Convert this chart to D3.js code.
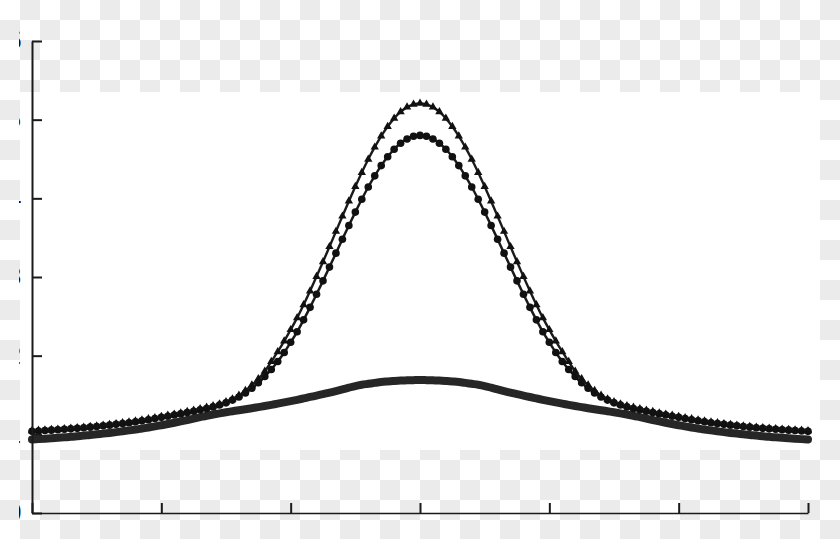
<!DOCTYPE html>
<html>
<head>
<meta charset="utf-8">
<script src="https://cdn.jsdelivr.net/npm/d3@7"></script>
<style>
  html, body { margin: 0; padding: 0; background: #fff; }
  svg { display: block; }
</style>
</head>
<body>
<svg id="chart" width="840" height="539"></svg>
<script>
// ---- data ----
const xValues = d3.range(121).map(i => +(i * 0.05).toFixed(2)); // 0 .. 6 step 0.05
const xTicks = [0, 1, 2, 3, 4, 5, 6];
const yTicks = [0, 1, 2, 3, 4, 5, 6];
const yTickLabels = ["0", "1", "2", "3", "4", "5", "6"];

// series with triangle markers (tallest)
const seriesTriangle = [
  1.045,1.050,1.055,1.060,1.065,1.071,1.077,1.083,1.090,1.098,1.106,1.115,1.125,1.135,1.146,1.157,1.169,1.182,1.196,1.211,
  1.227,1.241,1.256,1.272,1.289,1.306,1.324,1.342,1.362,1.385,1.413,1.450,1.495,1.555,1.625,1.705,1.800,1.925,2.050,2.185,
  2.330,2.480,2.647,2.822,3.005,3.193,3.385,3.579,3.773,3.964,4.149,4.328,4.496,4.650,4.791,4.913,5.017,5.099,5.159,5.195,
  5.207,
  5.195,5.159,5.099,5.017,4.913,4.791,4.650,4.496,4.328,4.149,3.964,3.773,3.579,3.385,3.193,3.005,2.822,2.647,2.480,2.330,
  2.185,2.050,1.925,1.800,1.705,1.625,1.555,1.495,1.450,1.413,1.385,1.362,1.342,1.324,1.306,1.289,1.272,1.256,1.241,1.227,
  1.211,1.196,1.182,1.169,1.157,1.146,1.135,1.125,1.115,1.106,1.098,1.090,1.083,1.077,1.071,1.065,1.060,1.055,1.050,1.045
];

// series with filled dot markers (middle)
const seriesDot = [
  1.038,1.043,1.048,1.053,1.058,1.064,1.070,1.076,1.083,1.091,1.099,1.108,1.117,1.127,1.137,1.148,1.160,1.173,1.186,1.201,
  1.216,1.230,1.245,1.260,1.277,1.294,1.311,1.329,1.349,1.372,1.400,1.435,1.475,1.525,1.585,1.655,1.735,1.825,1.925,2.040,
  2.170,2.304,2.455,2.614,2.780,2.951,3.126,3.303,3.480,3.655,3.825,3.989,4.144,4.286,4.416,4.529,4.624,4.700,4.755,4.789,
  4.800,
  4.789,4.755,4.700,4.624,4.529,4.416,4.286,4.144,3.989,3.825,3.655,3.480,3.303,3.126,2.951,2.780,2.614,2.455,2.304,2.170,
  2.040,1.925,1.825,1.735,1.655,1.585,1.525,1.475,1.435,1.400,1.372,1.349,1.329,1.311,1.294,1.277,1.260,1.245,1.230,1.216,
  1.201,1.186,1.173,1.160,1.148,1.137,1.127,1.117,1.108,1.099,1.091,1.083,1.076,1.070,1.064,1.058,1.053,1.048,1.043,1.038
];

// broad, low series (thick line)
const seriesBroad = [
  0.934,0.939,0.944,0.950,0.956,0.962,0.968,0.976,0.984,0.991,1.000,1.009,1.018,1.028,1.039,1.050,1.061,1.074,1.087,1.101,
  1.116,1.131,1.147,1.164,1.182,1.200,1.218,1.236,1.252,1.267,1.281,1.294,1.307,1.319,1.332,1.346,1.360,1.375,1.391,1.406,
  1.422,1.439,1.457,1.475,1.492,1.510,1.530,1.550,1.571,1.593,1.614,1.630,1.642,1.654,1.665,1.672,1.678,1.683,1.686,1.689,
  1.691,
  1.689,1.686,1.683,1.678,1.672,1.665,1.654,1.642,1.630,1.614,1.593,1.571,1.550,1.530,1.510,1.492,1.475,1.457,1.439,1.422,
  1.406,1.391,1.375,1.360,1.346,1.332,1.319,1.307,1.294,1.281,1.267,1.252,1.236,1.218,1.200,1.182,1.164,1.147,1.131,1.116,
  1.101,1.087,1.074,1.061,1.050,1.039,1.028,1.018,1.009,1.000,0.991,0.984,0.976,0.968,0.962,0.956,0.950,0.944,0.939,0.934
];

// ---- drawing ----
const W = 840, H = 539;
const svg = d3.select("#chart");
const defs = svg.append("defs");

// checkerboard backdrop
const pat = defs.append("pattern")
  .attr("id", "checker").attr("width", 40).attr("height", 40)
  .attr("patternUnits", "userSpaceOnUse");
pat.append("rect").attr("width", 40).attr("height", 40).attr("fill", "#ffffff");
pat.append("rect").attr("x", 20).attr("y", 0).attr("width", 20).attr("height", 20).attr("fill", "#ebebeb");
pat.append("rect").attr("x", 0).attr("y", 20).attr("width", 20).attr("height", 20).attr("fill", "#ebebeb");

svg.append("rect").attr("width", W).attr("height", H).attr("fill", "url(#checker)");
svg.append("rect").attr("x", 20).attr("y", 92).attr("width", 800).attr("height", 358).attr("fill", "#ffffff");

const x = d3.scaleLinear().domain([0, 6]).range([32, 808]);
const y = d3.scaleLinear().domain([0, 6]).range([513, 41]);

// clip for cut-off tick labels (absolute coordinates)
defs.append("clipPath").attr("id", "labclip")
  .append("rect").attr("x", 19).attr("y", 0).attr("width", W).attr("height", H);

const ink = "#1a1a1a";

const line = d3.line()
  .x((d, i) => x(xValues[i]))
  .y(d => y(d))
  .curve(d3.curveCatmullRom);

// broad series
svg.append("path")
  .attr("d", line(seriesBroad))
  .attr("fill", "none")
  .attr("stroke", "#262626")
  .attr("stroke-width", 8)
  .attr("stroke-linecap", "round")
  .attr("stroke-linejoin", "round");

// dot series
svg.append("path")
  .attr("d", line(seriesDot))
  .attr("fill", "none").attr("stroke", ink).attr("stroke-width", 2.5);
svg.append("g").selectAll("circle")
  .data(seriesDot).join("circle")
  .attr("cx", (d, i) => x(xValues[i]))
  .attr("cy", d => y(d))
  .attr("r", 3.8)
  .attr("fill", "#111");

// triangle series
svg.append("path")
  .attr("d", line(seriesTriangle))
  .attr("fill", "none").attr("stroke", ink).attr("stroke-width", 2.4);
const tri = d3.symbol().type(d3.symbolTriangle).size(30);
svg.append("g").selectAll("path")
  .data(seriesTriangle).join("path")
  .attr("transform", (d, i) => `translate(${x(xValues[i])},${y(d)})`)
  .attr("d", tri)
  .attr("fill", "#111");

// axes
const yAxisOuter = svg.append("g").attr("clip-path", "url(#labclip)");
const yAxis = yAxisOuter.append("g")
  .attr("transform", "translate(32,0)")
  .call(d3.axisLeft(y).tickValues(yTicks)
    .tickFormat((d, i) => yTickLabels[i])
    .tickSizeInner(-10).tickSizeOuter(0).tickPadding(10));
yAxis.select(".domain").attr("stroke", ink).attr("stroke-width", 2);
yAxis.selectAll(".tick line").attr("stroke", ink).attr("stroke-width", 2);
yAxis.selectAll(".tick text")
  .attr("font-family", "DejaVu Sans, sans-serif")
  .attr("font-size", 24)
  .attr("fill", "#111");

const xAxis = svg.append("g")
  .attr("transform", "translate(0,513)")
  .call(d3.axisBottom(x).tickValues(xTicks).tickFormat("")
    .tickSizeInner(-10).tickSizeOuter(0));
xAxis.select(".domain").attr("stroke", ink).attr("stroke-width", 1.6);
xAxis.selectAll(".tick line").attr("stroke", ink).attr("stroke-width", 2);
</script>
</body>
</html>
